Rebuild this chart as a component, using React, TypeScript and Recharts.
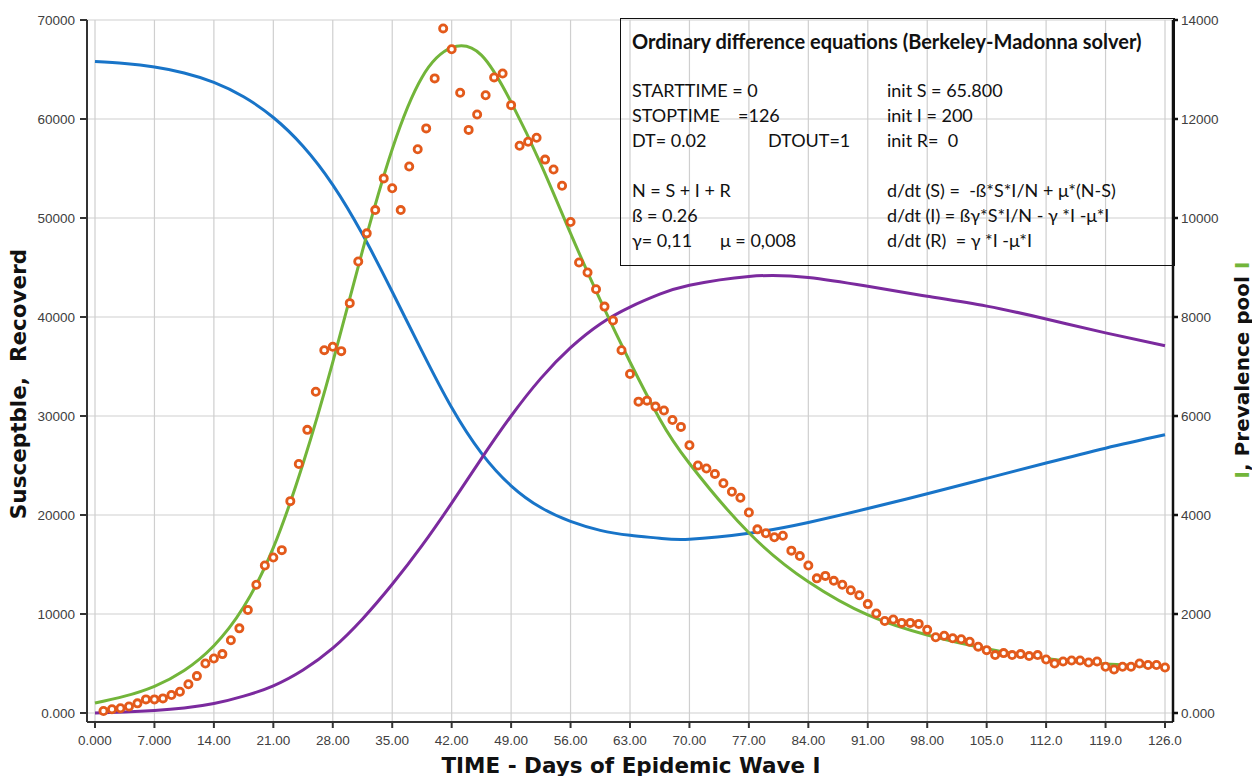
import React from 'react';
import { ComposedChart, Line, XAxis, YAxis, CartesianGrid } from 'recharts';

// model output sampled along the time axis (days)
const modelDays = [0, 3.5, 7, 10.5, 14, 17.5, 21, 24.5, 28, 31.5, 35, 38.5, 42, 45.5, 49, 52.5, 56, 59.5, 63, 66.5, 70, 77, 84, 91, 98, 105, 112, 119, 126];
const susceptible = [65800, 65600, 65250, 64650, 63700, 62250, 60150, 57250, 53350, 48350, 42550, 36550, 30850, 26250, 22950, 20750, 19350, 18450, 17950, 17650, 17550, 18150, 19250, 20650, 22150, 23700, 25250, 26750, 28100];
const recovered = [0, 100, 250, 500, 950, 1700, 2750, 4350, 6550, 9500, 13000, 16900, 21200, 25700, 30000, 33800, 36900, 39300, 41000, 42300, 43200, 44100, 44000, 43100, 42100, 41100, 39800, 38400, 37100];
const infected = [200, 340, 540, 860, 1360, 2140, 3340, 5040, 7090, 9340, 11390, 12840, 13440, 13290, 12340, 11090, 9690, 8340, 7090, 5940, 5040, 3640, 2650, 1980, 1575, 1300, 1100, 990, 935];

// reported prevalence, day 1 .. 126
const observed = [
  40, 75, 95, 130, 195, 275, 275, 295, 365, 430,
  580, 745, 1000, 1100, 1190, 1470, 1710, 2080, 2590, 2980,
  3140, 3290, 4280, 5030, 5720, 6490, 7330, 7400, 7310, 8280,
  9120, 9690, 10160, 10800, 10600, 10160, 11040, 11390, 11810, 12820,
  13830, 13410, 12530, 11780, 12090, 12480, 12840, 12920, 12280, 11460,
  11540, 11620, 11180, 10980, 10650, 9920, 9100, 8900, 8560, 8210,
  7930, 7330, 6850, 6290, 6310, 6190, 6110, 5920, 5780, 5410,
  5000, 4940, 4830, 4640, 4470, 4350, 4050, 3710, 3630, 3550,
  3580, 3280, 3170, 2980, 2720, 2770, 2670, 2590, 2480, 2380,
  2200, 2010, 1860, 1890, 1820, 1820, 1800, 1680, 1530, 1560,
  1510, 1490, 1440, 1340, 1270, 1170, 1210, 1170, 1190, 1150,
  1170, 1080, 1000, 1040, 1060, 1060, 1020, 1040, 935, 880,
  935, 935, 1000, 970, 970, 920,
];

const dayTicks = [0, 7, 14, 21, 28, 35, 42, 49, 56, 63, 70, 77, 84, 91, 98, 105, 112, 119, 126];
const leftTicks = [0, 10000, 20000, 30000, 40000, 50000, 60000, 70000];
const rightTicks = [0, 2000, 4000, 6000, 8000, 10000, 12000, 14000];

const sData = modelDays.map((t, i) => ({ t, v: susceptible[i] }));
const rData = modelDays.map((t, i) => ({ t, v: recovered[i] }));
const iData = modelDays.map((t, i) => ({ t, v: infected[i] }));
const obsData = observed.map((v, i) => ({ t: i + 1, v }));

const BLUE = '#1874c8';
const PURPLE = '#7b2a9e';
const GREEN = '#72b53a';
const ORANGE = '#e35a1b';

const tickStyle = { fontFamily: '"Liberation Sans", Arial, sans-serif', fontSize: 13.5, fill: '#404040' };
const fmtCount = (v: number) => (v === 0 ? '0.000' : String(v));

const titleFont = '"DejaVu Sans", Verdana, sans-serif';
const boxFont = 'Lato, "Open Sans", sans-serif';

export default function App() {
  return (
    <div style={{ position: 'absolute', left: 0, top: 0, width: 1252, height: 776, background: '#fff' }}>
      <ComposedChart width={1252} height={776} margin={{ top: 20, right: 0, bottom: 24, left: 0 }}>
        <CartesianGrid yAxisId="left" stroke="#cfcfcf" strokeWidth={1.2} />
        <XAxis
          type="number"
          dataKey="t"
          domain={[0, 126]}
          ticks={dayTicks}
          allowDuplicatedCategory={false}
          padding={{ left: 8, right: 8 }}
          height={30}
          tickSize={6}
          tickMargin={7}
          tick={tickStyle}
          tickFormatter={(v: number) => v.toPrecision(4)}
          stroke="#333"
          strokeWidth={2}
        />
        <YAxis
          yAxisId="left"
          domain={[0, 70000]}
          ticks={leftTicks}
          padding={{ top: 0, bottom: 9 }}
          width={87}
          tickSize={7}
          tickMargin={5}
          tick={tickStyle}
          tickFormatter={fmtCount}
          stroke="#333"
          strokeWidth={2}
        />
        <YAxis
          yAxisId="right"
          orientation="right"
          domain={[0, 14000]}
          ticks={rightTicks}
          padding={{ top: 0, bottom: 9 }}
          width={79}
          tickSize={5}
          tickMargin={3}
          tick={tickStyle}
          tickFormatter={fmtCount}
          stroke="#111"
          strokeWidth={2.5}
        />
        <Line yAxisId="left" data={sData} dataKey="v" type="natural" stroke={BLUE} strokeWidth={3} dot={false} isAnimationActive={false} />
        <Line yAxisId="left" data={rData} dataKey="v" type="natural" stroke={PURPLE} strokeWidth={3} dot={false} isAnimationActive={false} />
        <Line yAxisId="right" data={iData} dataKey="v" type="natural" stroke={GREEN} strokeWidth={3} dot={false} isAnimationActive={false} />
        <Line
          yAxisId="right"
          data={obsData}
          dataKey="v"
          stroke="none"
          dot={{ r: 3.6, stroke: ORANGE, strokeWidth: 2.8, fill: '#fff' }}
          activeDot={false}
          isAnimationActive={false}
        />
      </ComposedChart>

      {/* axis titles */}
      <div
        style={{
          position: 'absolute', left: 18, top: 384, transform: 'translate(-50%, -50%) rotate(-90deg)',
          whiteSpace: 'pre', fontFamily: titleFont, fontWeight: 'bold', fontSize: 21.5, color: '#111',
        }}
      >
        Susceptble,  Recoverd
      </div>
      <div
        style={{
          position: 'absolute', left: 631, top: 765, transform: 'translate(-50%, -50%)',
          whiteSpace: 'pre', fontFamily: titleFont, fontWeight: 'bold', fontSize: 21.5, color: '#111',
        }}
      >
        TIME - Days of Epidemic Wave I
      </div>
      <div
        style={{
          position: 'absolute', left: 1242, top: 370, transform: 'translate(-50%, -50%) rotate(-90deg)',
          whiteSpace: 'pre', fontFamily: titleFont, fontWeight: 'bold', fontSize: 20, color: '#111',
        }}
      >
        <span style={{ color: GREEN }}>I</span>, Prevalence pool <span style={{ color: GREEN }}>I</span>
      </div>

      {/* solver settings box */}
      <div
        style={{
          position: 'absolute', left: 620, top: 18, width: 553, height: 246, border: '1.5px solid #111',
          fontFamily: boxFont, fontSize: 18, color: '#111', whiteSpace: 'pre', lineHeight: '22px',
        }}
      >
        <div style={{ position: 'absolute', left: 11, top: 11, fontWeight: 'bold', fontSize: 20 }}>
          Ordinary difference equations (Berkeley-Madonna solver)
        </div>
        <div style={{ position: 'absolute', left: 11, top: 60 }}>STARTTIME = 0</div>
        <div style={{ position: 'absolute', left: 11, top: 85 }}>STOPTIME</div>
        <div style={{ position: 'absolute', left: 117, top: 85 }}>=126</div>
        <div style={{ position: 'absolute', left: 11, top: 110 }}>DT= 0.02</div>
        <div style={{ position: 'absolute', left: 147, top: 110 }}>DTOUT=1</div>
        <div style={{ position: 'absolute', left: 11, top: 160 }}>N = S + I + R</div>
        <div style={{ position: 'absolute', left: 11, top: 185 }}>ß = 0.26</div>
        <div style={{ position: 'absolute', left: 11, top: 210 }}>γ= 0,11</div>
        <div style={{ position: 'absolute', left: 99, top: 210 }}>μ = 0,008</div>

        <div style={{ position: 'absolute', left: 266, top: 60 }}>init S = 65.800</div>
        <div style={{ position: 'absolute', left: 266, top: 85 }}>init I = 200</div>
        <div style={{ position: 'absolute', left: 266, top: 110 }}>init R=  0</div>
        <div style={{ position: 'absolute', left: 266, top: 160 }}>d/dt (S) =  -ß*S*I/N + μ*(N-S)</div>
        <div style={{ position: 'absolute', left: 266, top: 185 }}>d/dt (I) = ßγ*S*I/N - γ *I -μ*I</div>
        <div style={{ position: 'absolute', left: 266, top: 210 }}>d/dt (R)  = γ *I -μ*I</div>
      </div>
    </div>
  );
}
